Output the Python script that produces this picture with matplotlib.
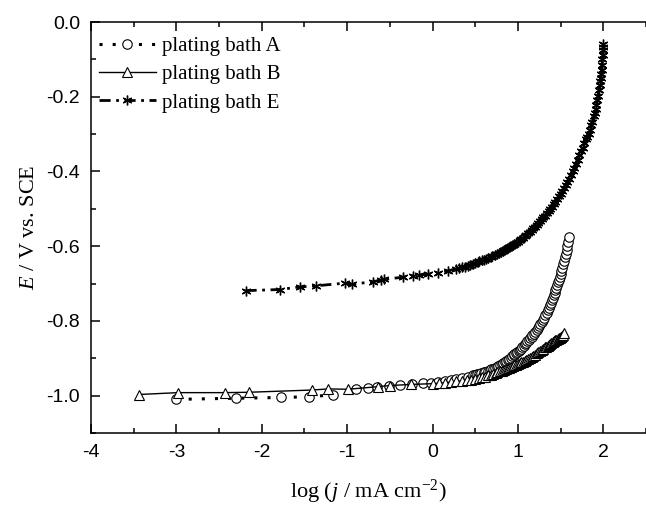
import matplotlib
matplotlib.use('Agg')
import matplotlib.pyplot as plt
from matplotlib.ticker import MultipleLocator, FormatStrFormatter

# Polarization curves: log(j / mA cm-2) vs E (V vs SCE)

# plating bath A
logj_a = [-3.01, -2.30, -1.78, -1.45, -1.17, -0.90, -0.76, -0.65, -0.51, -0.38,
          -0.24, -0.11, -0.02, 0.07, 0.15, 0.22, 0.28, 0.35, 0.41, 0.47,
          0.50, 0.52, 0.55, 0.57, 0.60, 0.62, 0.65, 0.67, 0.69, 0.71,
          0.73, 0.75, 0.77, 0.79, 0.81, 0.83, 0.85, 0.86, 0.88, 0.90,
          0.92, 0.93, 0.95, 0.96, 0.98, 0.99, 1.01, 1.02, 1.04, 1.05,
          1.07, 1.08, 1.10, 1.11, 1.13, 1.14, 1.16, 1.17, 1.19, 1.20,
          1.22, 1.23, 1.25, 1.26, 1.28, 1.29, 1.31, 1.32, 1.34, 1.35,
          1.37, 1.38, 1.39, 1.40, 1.41, 1.42, 1.43, 1.44, 1.45, 1.46,
          1.47, 1.48, 1.49, 1.50, 1.51, 1.52, 1.53, 1.54, 1.55, 1.56,
          1.57, 1.58, 1.59, 1.60]
e_a = [-1.010, -1.007, -1.005, -1.003, -0.998, -0.982, -0.979, -0.978, -0.974, -0.972,
       -0.969, -0.967, -0.965, -0.963, -0.960, -0.958, -0.956, -0.953, -0.950, -0.946,
       -0.944, -0.943, -0.941, -0.939, -0.937, -0.936, -0.934, -0.932, -0.930, -0.928,
       -0.926, -0.924, -0.922, -0.919, -0.916, -0.913, -0.910, -0.908, -0.905, -0.901,
       -0.898, -0.895, -0.892, -0.889, -0.886, -0.883, -0.880, -0.877, -0.874, -0.870,
       -0.867, -0.863, -0.859, -0.855, -0.851, -0.847, -0.843, -0.838, -0.834, -0.829,
       -0.824, -0.819, -0.814, -0.808, -0.803, -0.797, -0.791, -0.785, -0.779, -0.772,
       -0.765, -0.758, -0.752, -0.745, -0.739, -0.732, -0.725, -0.718, -0.711, -0.704,
       -0.697, -0.690, -0.682, -0.674, -0.666, -0.658, -0.649, -0.640, -0.630, -0.620,
       -0.610, -0.600, -0.588, -0.575]

# plating bath B
logj_b = [-3.44, -2.98, -2.43, -2.15, -1.41, -1.22, -0.99, -0.64, -0.50, -0.25,
          0.00, 0.08, 0.15, 0.22, 0.28, 0.34, 0.40, 0.45, 0.50, 0.54,
          0.58, 0.62, 0.65, 0.68, 0.71, 0.74, 0.76, 0.79, 0.81, 0.84,
          0.86, 0.88, 0.90, 0.92, 0.94, 0.96, 0.98, 1.00, 1.02, 1.04,
          1.06, 1.08, 1.10, 1.12, 1.14, 1.16, 1.18, 1.20, 1.22, 1.24,
          1.26, 1.28, 1.30, 1.32, 1.33, 1.35, 1.36, 1.38, 1.39, 1.41,
          1.42, 1.44, 1.45, 1.47, 1.48, 1.49, 1.50, 1.51, 1.52, 1.53, 1.54]
e_b = [-0.997, -0.992, -0.992, -0.991, -0.985, -0.982, -0.983, -0.976, -0.973, -0.970,
       -0.968, -0.967, -0.965, -0.964, -0.962, -0.961, -0.959, -0.957, -0.955, -0.953,
       -0.951, -0.949, -0.946, -0.944, -0.941, -0.939, -0.937, -0.935, -0.933, -0.931,
       -0.929, -0.927, -0.925, -0.923, -0.921, -0.919, -0.917, -0.915, -0.913, -0.911,
       -0.909, -0.907, -0.904, -0.902, -0.899, -0.896, -0.893, -0.890, -0.887, -0.884,
       -0.881, -0.878, -0.875, -0.871, -0.869, -0.866, -0.864, -0.861, -0.859, -0.856,
       -0.854, -0.852, -0.850, -0.848, -0.846, -0.845, -0.843, -0.842, -0.840, -0.838, -0.832]

# plating bath E
logj_e = [-2.19, -1.79, -1.55, -1.36, -1.03, -0.94, -0.70, -0.60, -0.57, -0.35,
          -0.23, -0.16, -0.05, 0.07, 0.18, 0.28, 0.31, 0.35, 0.38, 0.41,
          0.44, 0.47, 0.50, 0.53, 0.55, 0.58, 0.60, 0.63, 0.65, 0.68,
          0.70, 0.73, 0.75, 0.78, 0.80, 0.82, 0.84, 0.86, 0.88, 0.90,
          0.92, 0.94, 0.96, 0.98, 1.00, 1.02, 1.04, 1.06, 1.08, 1.10,
          1.12, 1.14, 1.16, 1.18, 1.20, 1.22, 1.24, 1.26, 1.28, 1.30,
          1.32, 1.34, 1.36, 1.38, 1.40, 1.42, 1.44, 1.46, 1.48, 1.50,
          1.52, 1.54, 1.56, 1.58, 1.60, 1.62, 1.64, 1.66, 1.68, 1.70,
          1.72, 1.74, 1.76, 1.78, 1.80, 1.81, 1.83, 1.84, 1.86, 1.87,
          1.89, 1.90, 1.91, 1.92, 1.93, 1.94, 1.95, 1.96, 1.965, 1.97,
          1.975, 1.98, 1.985, 1.99, 1.995, 2.00, 2.00, 2.00]
e_e = [-0.719, -0.716, -0.709, -0.706, -0.699, -0.702, -0.695, -0.691, -0.689, -0.683,
       -0.679, -0.677, -0.675, -0.671, -0.666, -0.661, -0.659, -0.657, -0.655, -0.653,
       -0.650, -0.648, -0.645, -0.643, -0.640, -0.638, -0.636, -0.634, -0.631, -0.629,
       -0.626, -0.623, -0.620, -0.618, -0.615, -0.613, -0.610, -0.608, -0.605, -0.603,
       -0.600, -0.597, -0.594, -0.591, -0.588, -0.584, -0.581, -0.577, -0.573, -0.569,
       -0.565, -0.561, -0.557, -0.552, -0.548, -0.543, -0.538, -0.533, -0.528, -0.523,
       -0.518, -0.512, -0.506, -0.500, -0.494, -0.488, -0.481, -0.474, -0.467, -0.460,
       -0.453, -0.445, -0.437, -0.428, -0.419, -0.410, -0.400, -0.390, -0.379, -0.368,
       -0.357, -0.346, -0.336, -0.325, -0.314, -0.308, -0.299, -0.290, -0.276, -0.268,
       -0.252, -0.243, -0.233, -0.222, -0.210, -0.197, -0.183, -0.168, -0.159, -0.150,
       -0.139, -0.128, -0.115, -0.100, -0.088, -0.075, -0.067, -0.060]

plt.rcParams['font.family'] = ['Liberation Sans', 'DejaVu Sans']
plt.rcParams['axes.unicode_minus'] = False
plt.rcParams['mathtext.fontset'] = 'custom'
plt.rcParams['mathtext.rm'] = 'Liberation Serif'
plt.rcParams['mathtext.it'] = 'Liberation Serif:italic'

fig = plt.figure(figsize=(6.46, 5.05), dpi=100)
ax = fig.add_axes([0.1409, 0.1426, 0.859, 0.8138])

ax.plot(logj_a, e_a, color='black', linestyle=(0, (1, 3.3)), linewidth=2.2,
        marker='o', markersize=6.8, markerfacecolor='white', markeredgecolor='black',
        markeredgewidth=0.8, label='plating bath A')
ax.plot(logj_b, e_b, color='black', linestyle='-', linewidth=1.0,
        marker='^', markersize=7, markerfacecolor='white', markeredgecolor='black',
        markeredgewidth=0.8, label='plating bath B')
ax.plot(logj_e, e_e, color='black', linestyle=(0, (4, 2, 1, 2)), linewidth=2.0,
        marker=(6, 2, 0), markersize=7, markeredgecolor='black',
        markeredgewidth=1.0, label='plating bath E')

ax.set_xlim(-4, 2.5)
ax.set_ylim(-1.1, 0.0)
ax.xaxis.set_major_locator(MultipleLocator(1))
ax.xaxis.set_minor_locator(MultipleLocator(0.5))
ax.yaxis.set_major_locator(MultipleLocator(0.2))
ax.yaxis.set_minor_locator(MultipleLocator(0.1))
ax.yaxis.set_major_formatter(FormatStrFormatter('%.1f'))

ax.tick_params(which='both', direction='in', top=True, right=False, width=1.1)
ax.tick_params(which='major', length=6.5, labelsize=14, pad=8)
ax.tick_params(which='minor', length=3.3)
for side in ['left', 'bottom', 'top']:
    ax.spines[side].set_linewidth(1.1)
ax.spines['right'].set_visible(False)

ax.set_xlabel(r'log ($j$ / mA cm$^{-2}$)', fontsize=16, family='Liberation Serif', labelpad=12)
ax.set_ylabel(r'$E$ / V vs. SCE', fontsize=16, family='Liberation Serif', labelpad=5)

leg = ax.legend(loc='upper left', bbox_to_anchor=(0.0, 0.985), frameon=False, numpoints=1,
                handlelength=2.7, handletextpad=0.3, labelspacing=0.42,
                borderaxespad=0.1, borderpad=0.3,
                prop={'family': 'Liberation Serif', 'size': 15})

fig.savefig('out.png', dpi=100)
